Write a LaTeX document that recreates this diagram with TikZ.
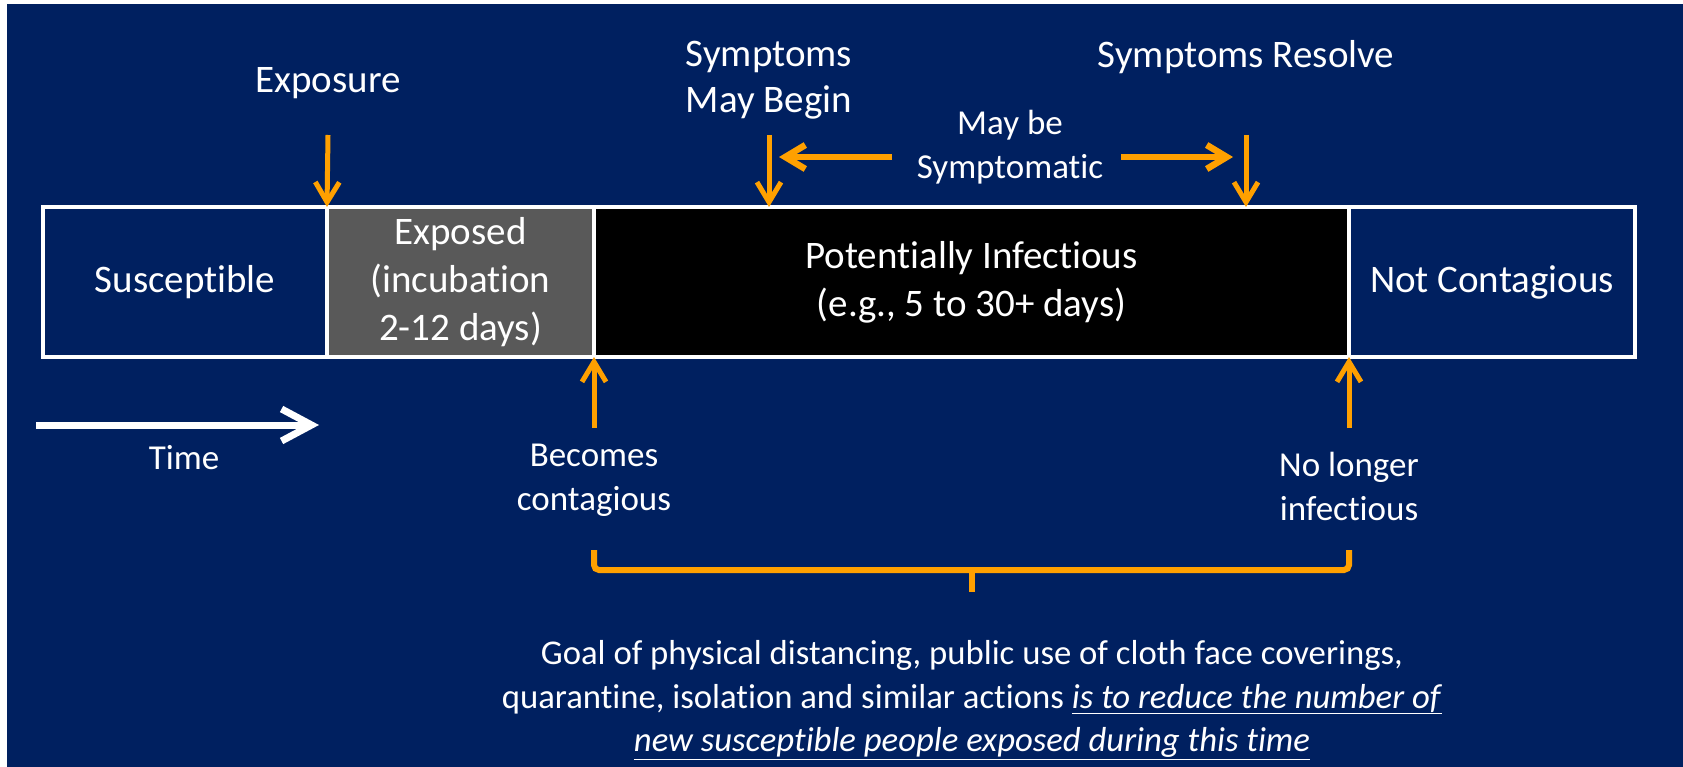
\documentclass[tikz,border=0pt]{standalone}
\usepackage{fontspec}
\setmainfont{Carlito}[Ligatures={NoCommon}]
\usetikzlibrary{arrows.meta, calc}

\definecolor{navyback}{RGB}{0,32,96}
\definecolor{tlorange}{RGB}{255,160,0}
\definecolor{incgray}{RGB}{89,89,89}

\tikzset{
  stage/.style={draw=white, line width=4pt, minimum height=150pt, inner sep=0pt, outer sep=0pt,
    text=white, align=center, font=\fontsize{39}{48}\selectfont},
  toplabel/.style={text=white, align=center, font=\fontsize{39}{46}\selectfont, inner sep=0pt},
  lowlabel/.style={text=white, align=center, font=\fontsize{35}{44}\selectfont, inner sep=0pt},
  evarrow/.style={draw=tlorange, line width=5pt, -{Straight Barb[length=20pt,width=24pt]}},
  symarrow/.style={evarrow, line width=6.5pt},
  timearrow/.style={draw=white, line width=7pt, -{Straight Barb[length=30pt,width=32pt]}},
  bracket/.style={draw=tlorange, line width=6pt, rounded corners=5pt},
}

\begin{document}
\begin{tikzpicture}[x=1pt, y=-1pt]
  \useasboundingbox (0,0) rectangle (1683,767);
  \fill[navyback] (7,4) rectangle (1683,767);

  % Stages along the timeline
  \node[stage, fill=navyback, minimum width=284pt] (sus) at (185,282) {Susceptible};
  \node[stage, fill=incgray, minimum width=267pt, anchor=west] (exp) at (sus.east) {Exposed\\(incubation\\2-12 days)};
  \node[stage, fill=black, minimum width=755pt, anchor=west] (inf) at (exp.east) {Potentially Infectious\\(e.g., 5 to 30+ days)};
  \node[stage, fill=navyback, minimum width=286pt, anchor=west] (notc) at (inf.east) {Not Contagious};

  % Events above
  \node[toplabel] (expo) at (328,83) {Exposure};
  \node[toplabel] (symb) at (769,80) {Symptoms\\May Begin};
  \node[toplabel] (symr) at (1246,57) {Symptoms Resolve};
  \node[lowlabel] (mays) at (1010,147) {May be\\Symptomatic};

  \coordinate (expoT) at (328,135);
  \coordinate (symbT) at (769,135);
  \coordinate (symrT) at (1246,135);
  \draw[evarrow] (expoT) -- (sus.north east);
  \draw[evarrow] (symbT) -- (symbT |- inf.north);
  \draw[evarrow] (symrT) -- (symrT |- inf.north);

  % May be symptomatic span
  \coordinate (mayL) at (892,157);
  \coordinate (mayR) at (1121,157);
  \draw[symarrow, shorten >=10pt] (mayL) -- (mayL -| symbT);
  \draw[symarrow, shorten >=13pt] (mayR) -- (mayR -| symrT);

  % Events below
  \coordinate (becT) at (594,428);
  \coordinate (nolT) at (1349,428);
  \draw[evarrow] (becT) -- (exp.south east);
  \draw[evarrow] (nolT) -- (inf.south east);
  \node[lowlabel] (becm) at (594,480) {Becomes\\contagious};
  \node[lowlabel] (nolo) at (1349,486) {No longer\\infectious};

  % Time
  \coordinate (timeA) at (36,425);
  \coordinate (timeB) at (319,425);
  \draw[timearrow] (timeA) -- (timeB);
  \node[lowlabel] (time) at (184,458) {Time};

  % Bracket over the infectious period
  \coordinate (brL) at (594,550);
  \coordinate (brR) at (1349,550);
  \coordinate (brM) at (971.5,570);
  \draw[bracket] (brL) -- ++(0,20) -| (brR);
  \draw[bracket] (brM) -- ++(0,22);

  \node[text=white, align=center, font=\fontsize{34.7}{43.5}\selectfont, inner sep=0pt] (goal) at (972,700)
    {Goal of physical distancing, public use of cloth face coverings,\\
     quarantine, isolation and similar actions \underline{\textit{is to reduce the number of}}\\
     \underline{\textit{new susceptible people exposed during this time}}};
\end{tikzpicture}
\end{document}
